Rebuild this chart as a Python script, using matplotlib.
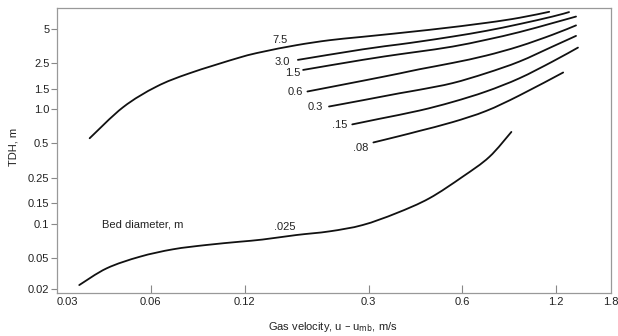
import numpy as np
import matplotlib
matplotlib.use("Agg")
import matplotlib.pyplot as plt
from matplotlib.path import Path
from matplotlib.patches import PathPatch
from matplotlib.ticker import FixedLocator, FixedFormatter

plt.rcParams['font.family'] = ['Liberation Sans', 'DejaVu Sans']

# Curves of TDH vs. excess gas velocity, one per bed diameter (m)
u_75 = [0.036, 0.0476, 0.0626, 0.080, 0.1157, 0.137, 0.176, 0.225, 0.287, 0.470, 0.716, 0.914, 1.14]
tdh_75 = [0.555, 1.035, 1.567, 2.05, 2.81, 3.15, 3.60, 3.98, 4.26, 4.90, 5.64, 6.24, 7.04]

u_30 = [0.178, 0.287, 0.377, 0.437, 0.558, 0.715, 0.914, 1.168, 1.32]
tdh_30 = [2.68, 3.31, 3.66, 3.87, 4.28, 4.80, 5.50, 6.40, 7.0]

u_15 = [0.185, 0.287, 0.377, 0.437, 0.558, 0.715, 0.914, 1.168, 1.39]
tdh_15 = [2.19, 2.68, 3.0, 3.17, 3.50, 4.01, 4.68, 5.61, 6.40]

u_06 = [0.191, 0.287, 0.377, 0.437, 0.558, 0.715, 0.914, 1.168, 1.39]
tdh_06 = [1.42, 1.76, 2.04, 2.22, 2.52, 2.92, 3.52, 4.44, 5.36]

u_03 = [0.224, 0.287, 0.377, 0.437, 0.558, 0.715, 0.914, 1.168, 1.39]
tdh_03 = [1.05, 1.19, 1.37, 1.47, 1.68, 2.05, 2.59, 3.50, 4.34]

u_015 = [0.266, 0.325, 0.437, 0.558, 0.715, 0.914, 1.168, 1.41]
tdh_015 = [0.733, 0.82, 0.968, 1.15, 1.42, 1.85, 2.59, 3.43]

u_008 = [0.311, 0.377, 0.437, 0.558, 0.715, 0.914, 1.264]
tdh_008 = [0.510, 0.58, 0.643, 0.767, 0.96, 1.31, 2.08]

u_0025 = [0.033, 0.0415, 0.0547, 0.0707, 0.0905, 0.1157, 0.137, 0.176, 0.225, 0.287,
          0.368, 0.470, 0.601, 0.732, 0.862]
tdh_0025 = [0.0225, 0.0369, 0.0513, 0.0596, 0.065, 0.0694, 0.0725, 0.0794, 0.0855, 0.097,
            0.123, 0.166, 0.256, 0.381, 0.63]

curves = [(u_75, tdh_75), (u_30, tdh_30), (u_15, tdh_15), (u_06, tdh_06),
          (u_03, tdh_03), (u_015, tdh_015), (u_008, tdh_008), (u_0025, tdh_0025)]

# curve labels and where they sit
curve_labels = ["7.5", "3.0", "1.5", "0.6", "0.3", ".15", ".08", ".025"]
label_u = [0.156, 0.159, 0.171, 0.175, 0.203, 0.242, 0.284, 0.161]
label_tdh = [4.01, 2.59, 2.05, 1.40, 1.05, 0.726, 0.46, 0.0927]

x_ticks = [0.06, 0.12, 0.3, 0.6, 1.2]
x_ticks_end = [0.03, 1.8]
y_ticks = [0.02, 0.05, 0.1, 0.15, 0.25, 0.5, 1.0, 1.5, 2.5, 5]
y_tick_labels = ["0.02", "0.05", "0.1", "0.15", "0.25", "0.5", "1.0", "1.5", "2.5", "5"]


def squeezed_log(knee, k):
    # log axis, squeezed by factor k below the knee (as drawn in the original)
    lk = np.log10(knee)

    def fwd(v):
        l = np.log10(np.clip(v, 1e-12, None))
        return np.where(l >= lk, l, lk + k * (l - lk))

    def inv(t):
        t = np.asarray(t, dtype=float)
        return 10 ** np.where(t >= lk, t, lk + (t - lk) / k)

    return fwd, inv


xfun = squeezed_log(0.06, 0.884)
yfun = squeezed_log(0.05, 0.68)


def smooth_path(u, t):
    # Catmull-Rom -> cubic Bezier, built in scaled space and mapped back
    p = np.column_stack([xfun[0](np.asarray(u)), yfun[0](np.asarray(t))])
    q = np.vstack([p[0], p, p[-1]])
    verts = [p[0]]
    codes = [Path.MOVETO]
    for i in range(1, len(q) - 2):
        c1 = q[i] + (q[i + 1] - q[i - 1]) / 6
        c2 = q[i + 1] - (q[i + 2] - q[i]) / 6
        verts += [c1, c2, q[i + 1]]
        codes += [Path.CURVE4] * 3
    verts = np.array(verts)
    verts = np.column_stack([xfun[1](verts[:, 0]), yfun[1](verts[:, 1])])
    return Path(verts, codes)


fig = plt.figure(figsize=(6.18, 3.36), dpi=100)
ax = fig.add_axes([57 / 618, 43 / 336, 554 / 618, 285 / 336])
ax.set_xscale('function', functions=xfun)
ax.set_yscale('function', functions=yfun)

for u, t in curves:
    ax.add_patch(PathPatch(smooth_path(u, t), facecolor='none', edgecolor='#111111',
                           lw=1.3, capstyle='round'))

for lab, xu, yt in zip(curve_labels, label_u, label_tdh):
    ax.text(xu, yt, lab, fontsize=8, color='#222222', ha='center', va='center')
ax.text(0.0398, 0.099, "Bed diameter, m", fontsize=8, color='#222222', ha='left', va='center')

ax.set_xlim(0.0274, 1.8)
ax.set_ylim(0.0178, 7.6)

ax.xaxis.set_major_locator(FixedLocator(x_ticks))
ax.xaxis.set_major_formatter(FixedFormatter([str(v) for v in x_ticks]))
ax.xaxis.set_minor_locator(FixedLocator(x_ticks_end))
ax.xaxis.set_minor_formatter(FixedFormatter([str(v) for v in x_ticks_end]))
ax.yaxis.set_major_locator(FixedLocator(y_ticks))
ax.yaxis.set_major_formatter(FixedFormatter(y_tick_labels))
ax.yaxis.set_minor_locator(FixedLocator([]))

ax.tick_params(axis='x', which='major', direction='in', length=6, width=0.8,
               color='#888888', labelsize=8, labelcolor='#222222', pad=3)
ax.tick_params(axis='x', which='minor', length=0, labelsize=8, labelcolor='#222222', pad=3)
ax.tick_params(axis='y', which='major', direction='out', length=4, width=0.8,
               color='#888888', labelsize=8, labelcolor='#222222', pad=1.5)

for sp in ax.spines.values():
    sp.set_color('#999999')
    sp.set_linewidth(0.9)

fig.text(333 / 618, 1 - 327 / 336, "Gas velocity, u \u2013 u$_{\\rm mb}$, m/s",
         fontsize=8, color='#222222', ha='center', va='center')
fig.text(13 / 618, 1 - 146.5 / 336, "TDH, m", fontsize=8, color='#222222',
         ha='center', va='center', rotation=90)

fig.savefig("out.png", dpi=100)
